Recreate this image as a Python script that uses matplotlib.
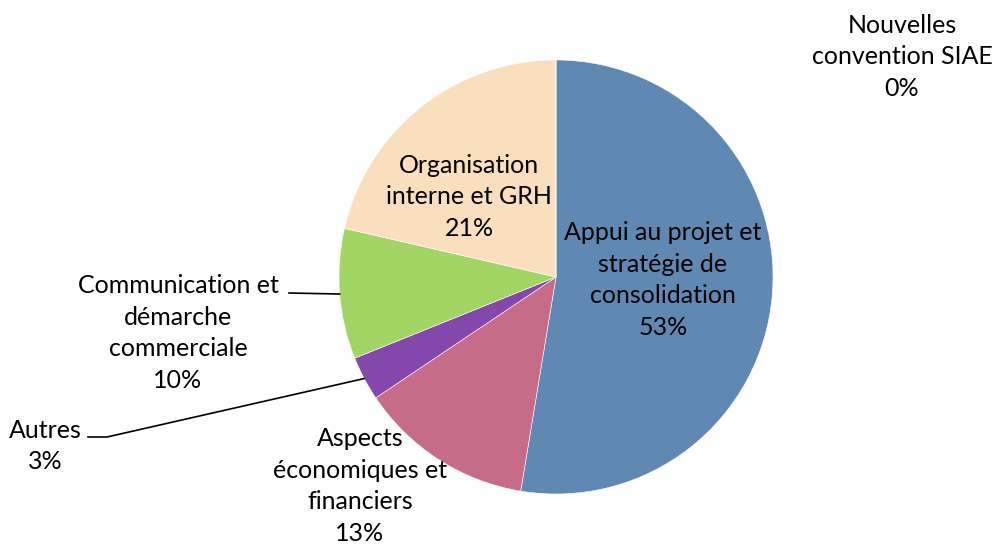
import matplotlib.pyplot as plt
import numpy as np

# Data (percent shares, clockwise from 12 o'clock)
labels = ["Appui au projet et\nstratégie de\nconsolidation",
          "Aspects\néconomiques et\nfinanciers",
          "Autres",
          "Communication et\ndémarche\ncommerciale",
          "Organisation\ninterne et GRH",
          "Nouvelles\nconvention SIAE"]
values = [52.6, 13.0, 3.3, 9.7, 21.4, 0.0]
colors = ["#5F89B3", "#C66C88", "#8447AC", "#A2D564", "#FADFBF", "#FFFFFF"]

plt.rcParams["font.family"] = ["Lato", "DejaVu Sans"]
FS = 18

fig = plt.figure(figsize=(9.92, 5.45), dpi=100)
ax = fig.add_axes([0, 0, 1, 1])

# pixel-like coordinates, y up
CX, CY, R = 556, 545 - 277, 217
wedges, _ = ax.pie(values, colors=colors, startangle=90, counterclock=False,
                   center=(CX, CY), radius=R,
                   wedgeprops=dict(edgecolor="white", linewidth=0.4))
ax.set_xlim(0, 992)
ax.set_ylim(0, 545)
ax.set_aspect("equal")
ax.axis("off")

def txt(i):
    return "{}\n{:.0f}%".format(labels[i], values[i])

def edge_point(w, frac=1.0):
    a = np.deg2rad((w.theta1 + w.theta2) / 2)
    return CX + R * frac * np.cos(a), CY + R * frac * np.sin(a)

# label positions (pixel, from top)
pos = {0: (663, 280), 1: (360, 486), 2: (45, 446), 3: (178, 333),
       4: (469, 197), 5: (902, 57)}
for i, (x, y) in pos.items():
    ax.text(x, 545 - y, txt(i), ha="center", va="center", fontsize=FS,
            linespacing=1.45, color="black")

# leader lines
ex, ey = edge_point(wedges[3])
ax.plot([289, ex], [545 - 293, ey], color="black", lw=1.2)
ex, ey = edge_point(wedges[2])
ax.plot([88, 107, ex], [545 - 437, 545 - 437, ey], color="black", lw=1.2)

fig.savefig("out.png", dpi=100)
